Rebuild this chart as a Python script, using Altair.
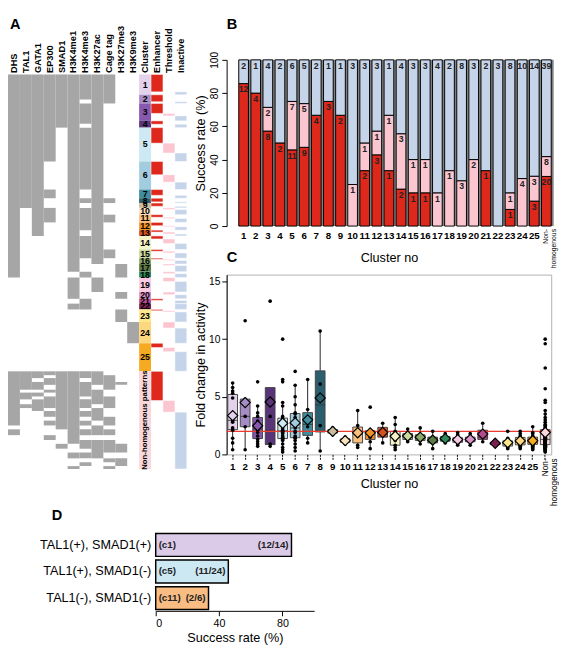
import altair as alt
import numpy as np
import pandas as pd

FONT = "Liberation Sans"

# ---------------- data ----------------
marks = ["DHS", "TAL1", "GATA1", "EP300", "SMAD1", "H3K4me1", "H3K4me3",
         "H3K27ac", "Cage tag", "H3K27me3", "H3K9me3"]
side_cols = ["Cluster", "Enhancer", "Threshold", "Inactive"]
clusters = [str(i) for i in range(1, 26)] + ["NH"]
cluster_colors = ["#e2d2ec", "#a68cc4", "#8759ae", "#5a3478", "#cde9f4", "#a2cde0",
                  "#3f8d9e", "#2b5f6e", "#cbbd9c", "#fbe2be", "#f8c07c", "#f39224",
                  "#d4521e", "#f4f3c6", "#cad99e", "#8ba86b", "#5c7b45", "#2c8a59",
                  "#f8c9e1", "#d892c8", "#b24a8b", "#7b2152", "#fde88c", "#fdd77e",
                  "#f6aa22", "#f9d8dc"]

# heatmap blocks: cluster, number of regions, presence pattern over marks
block_cluster = ["1", "2", "2", "3", "4", "4", "5", "6", "7", "8", "9", "10", "11", "12",
                 "13", "14", "15", "16", "17", "18", "19", "20", "21", "22", "23", "24", "25"] + ["NH"] * 24
block_rows = [21, 5, 4, 18, 3, 4, 35, 29, 9, 5, 5, 7, 8, 8, 6, 14, 9, 6, 8, 6, 15, 7, 5, 6, 13, 22, 29,
              4, 3, 4, 3, 5, 3, 4, 3, 5, 4, 3, 6, 4, 5, 4, 6, 5, 4, 5, 4, 6, 4, 4, 3]
block_pattern = ["11111111100", "11111111100", "11111101100", "11111111000", "11111111000",
                 "11111101000", "11110111000", "11100111000", "11110101000", "11100111100",
                 "11100101000", "10110111000", "10110111100", "10100111000", "10100101000",
                 "10000111000", "10000111100", "10000101000", "10000100010", "10000010010",
                 "00000101000", "00000100010", "00000010000", "00000110000", "00000000010",
                 "00000000001", "00000000000",
                 "11111111000", "11101111100", "11011101100", "11111111110", "11101110100",
                 "10011111000", "11101111000", "11011101100", "10111111100", "11111110100",
                 "10101101000", "10011111000", "10001101100", "10011110100", "00001101000",
                 "10000111100", "00010100000", "00000111100", "00001011110", "00000001110",
                 "00000111000", "00000000110", "00000010010", "00000100100"]

# panel B counts (Enhancer / Threshold / Inactive)
n_enhancer = [12, 4, 8, 2, 11, 9, 4, 3, 2, 0, 2, 3, 1, 2, 1, 1, 0, 0, 0, 0, 1, 0, 1, 0, 3, 20]
n_threshold = [0, 0, 2, 0, 7, 5, 0, 0, 0, 1, 1, 1, 1, 3, 1, 1, 1, 1, 3, 2, 0, 0, 1, 4, 3, 8]
n_inactive = [2, 1, 4, 2, 6, 5, 2, 1, 1, 3, 3, 3, 1, 4, 3, 3, 4, 2, 8, 3, 2, 3, 8, 10, 14, 39]
cat_names = ["Enhancer", "Threshold", "Inactive"]
cat_colors = ["#de281c", "#fcc6d1", "#c6d4ea"]

# panel C fold changes per cluster
fold_change = [
    [6.2, 5.8, 5.5, 5.3, 4.9, 3.6, 3.0, 2.9, 2.8, 2.3, 2.1, 1.4, 1.0, 0.4],
    [11.6, 4.8, 3.3, 2.4, 0.4],
    [6.3, 4.2, 3.6, 3.3, 2.9, 2.6, 2.3, 2.1, 1.9, 1.6, 1.3, 1.1, 0.9, 0.7],
    [13.3, 3.3, 0.9, 0.7],
    [10.0, 6.5, 6.3, 4.5, 4.2, 3.3, 3.1, 2.9, 2.6, 2.4, 2.2, 2.1, 2.0, 1.9, 1.8, 1.6, 1.5, 1.4,
     1.3, 1.2, 0.9, 0.6, 0.4, 0.2],
    [7.2, 6.0, 5.0, 4.3, 3.6, 3.5, 3.2, 2.8, 2.6, 2.3, 2.0, 1.9, 1.6, 1.5, 1.4, 1.2, 0.9, 0.6, 0.3],
    [6.5, 3.9, 2.8, 2.4, 1.4, 1.0],
    [10.7, 6.1, 2.5, 0.3],
    [2.3, 2.0, 1.7],
    [1.5, 1.3, 1.1, 0.9],
    [3.8, 2.5, 2.0, 1.6, 0.8, 0.6],
    [4.1, 2.1, 2.0, 1.8, 1.5, 1.1, 0.5],
    [2.7, 2.0, 1.0],
    [3.2, 2.6, 2.0, 1.9, 1.5, 1.2, 0.8, 0.6, 0.4],
    [2.2, 1.8, 1.6, 1.3, 1.1],
    [2.3, 1.7, 1.4, 1.2, 0.9],
    [2.0, 1.5, 1.2, 1.0, 0.5],
    [1.8, 1.3, 1.0],
    [1.9, 1.7, 1.5, 1.4, 1.3, 1.3, 1.2, 1.1, 1.0, 0.9, 0.8],
    [1.8, 1.5, 1.3, 1.1, 0.8],
    [2.7, 1.5, 1.1],
    [1.2, 0.9, 0.8],
    [2.0, 1.4, 1.2, 1.1, 1.0, 0.9, 0.8, 0.7, 0.6, 0.5],
    [2.0, 1.8, 1.6, 1.5, 1.4, 1.3, 1.2, 1.1, 1.0, 0.9, 0.8, 0.7, 0.6, 0.5],
    [2.4, 1.9, 1.8, 1.6, 1.5, 1.5, 1.4, 1.3, 1.2, 1.2, 1.1, 1.0, 1.0, 0.9, 0.9, 0.8, 0.7, 0.6,
     0.5, 0.4],
    [10.0, 9.6, 7.5, 5.7, 4.7, 4.5, 3.8, 3.5, 3.2, 3.0, 2.8, 2.6, 2.5, 2.4, 2.3, 2.2, 2.2, 2.1,
     2.0, 2.0, 1.9, 1.9, 1.8, 1.8, 1.7, 1.6, 1.6, 1.5, 1.5, 1.5, 1.4, 1.4, 1.4, 1.3, 1.3, 1.3,
     1.2, 1.2, 1.2, 1.1, 1.1, 1.1, 1.0, 1.0, 1.0, 1.0, 0.9, 0.9, 0.9, 0.9, 0.8, 0.8, 0.8, 0.7,
     0.7, 0.7, 0.6, 0.6, 0.6, 0.5, 0.5, 0.5, 0.4, 0.4, 0.3, 0.3, 0.2],
]
threshold_fc = [2.0]

# panel D
d_groups = ["TAL1(+), SMAD1(+)", "TAL1(+), SMAD1(-)", "TAL1(-), SMAD1(-)"]
d_tags = ["(c1)", "(c5)", "(c11)"]
d_hits = [12, 11, 2]
d_totals = [14, 24, 6]
d_colors = ["#dccbe8", "#cce9f3", "#f9bd84"]

# ---------------- tables ----------------
starts, ends = [], []
pos = 0
for n in block_rows:
    starts.append(pos)
    pos += n
    ends.append(pos)
total_rows = pos
heat = []
for j, m in enumerate(marks):
    run = None
    for s, e, p in zip(starts, ends, block_pattern):
        if p[j] == "1":
            if run is None:
                run = [s, e]
            else:
                run[1] = e
        else:
            if run is not None:
                heat.append({"col": m, "y0": run[0], "y1": run[1]})
                run = None
    if run is not None:
        heat.append({"col": m, "y0": run[0], "y1": run[1]})
heat_df = pd.DataFrame(heat)

cl_start, cl_end = {}, {}
for c, s, e in zip(block_cluster, starts, ends):
    cl_start.setdefault(c, s)
    cl_end[c] = e
cl_df = pd.DataFrame({
    "col": "Cluster",
    "cluster": clusters,
    "y0": [cl_start[c] for c in clusters],
    "y1": [cl_end[c] for c in clusters],
    "hex": cluster_colors,
})
cl_df["ymid"] = (cl_df["y0"] + cl_df["y1"]) / 2
cl_df["label"] = [c if c != "NH" else "" for c in clusters]

tested = []
for c, r, t, b in zip(clusters, n_enhancer, n_threshold, n_inactive):
    s, e = cl_start[c], cl_end[c]
    tot = r + t + b
    h = (e - s) / tot
    k = 0
    for cat, n, hx in zip(cat_names, (r, t, b), cat_colors):
        if n > 0:
            tested.append({"col": cat, "y0": s + k * h, "y1": s + (k + n) * h, "hex": hx})
        k += n
tested_df = pd.DataFrame(tested)

brows = []
for c, r, t, b in zip(clusters, n_enhancer, n_threshold, n_inactive):
    tot = r + t + b
    acc = 0
    for cat, n, hx in zip(cat_names, (r, t, b), cat_colors):
        if n > 0:
            brows.append({"cluster": c, "cat": cat, "n": n, "lo": acc / tot * 100,
                          "hi": (acc + n) / tot * 100, "hex": hx})
        acc += n
b_df = pd.DataFrame(brows)
shadow_df = pd.DataFrame({"cluster": clusters, "lo": 0, "hi": 100})

c_df = pd.DataFrame([{"cluster": c, "v": v} for c, vals in zip(clusters, fold_change) for v in vals])
stats = []
for c, vals, hx in zip(clusters, fold_change, cluster_colors):
    v = np.array(vals)
    q1, med, q3 = np.percentile(v, [25, 50, 75])
    iqr = q3 - q1
    stats.append({"cluster": c, "q1": q1, "med": med, "q3": q3, "mean": v.mean(),
                  "lo": v[v >= q1 - 1.5 * iqr].min(), "hi": v[v <= q3 + 1.5 * iqr].max(),
                  "hex": hx})
stat_df = pd.DataFrame(stats)

d_df = pd.DataFrame({"group": d_groups, "tag": d_tags,
                     "frac": [f"({h}/{t})" for h, t in zip(d_hits, d_totals)],
                     "pct": [h / t * 100 for h, t in zip(d_hits, d_totals)],
                     "hex": d_colors})

one = pd.DataFrame({"k": [0]})


def letter(t, x, y):
    return alt.Chart(one).mark_text(text=t, fontSize=15, fontWeight="bold", align="left",
                                    baseline="top", color="black").encode(
        x=alt.value(x), y=alt.value(y))


def spacer(w=1, h=1):
    return alt.Chart(one).mark_text(text="").encode(
        x=alt.value(0), y=alt.value(0)).properties(width=w, height=h)


# ---------------- panel A ----------------
A_W = 184
A_HEAT = 406          # pixel height of the heatmap rows
A_TOPGAP = 15         # heatmap starts below the top of panel B
A_H = A_HEAT + A_TOPGAP
pad_rows = A_TOPGAP * total_rows / A_HEAT
xA = alt.X("col:N", scale=alt.Scale(domain=marks + side_cols, paddingInner=0, paddingOuter=0),
           axis=alt.Axis(orient="top", title=None, labelAngle=270, labelAlign="left",
                         labelBaseline="middle", labelFontSize=9.5, labelFontWeight="bold",
                         ticks=False, tickSize=0, domain=False, labelPadding=2, labelLimit=200,
                         offset=-A_TOPGAP))
yscaleA = alt.Scale(domain=[-pad_rows, total_rows], reverse=True, nice=False, zero=False)
yA = alt.Y("y0:Q", scale=yscaleA, axis=None)
ymA = alt.Y("ymid:Q", scale=yscaleA, axis=None)

a_heat = alt.Chart(heat_df).mark_rect(color="#a6a6a6").encode(x=xA, y=yA, y2="y1:Q")
a_cl = alt.Chart(cl_df).mark_rect().encode(x=xA, y=yA, y2="y1:Q", color=alt.Color("hex:N", scale=None))
a_cltxt = alt.Chart(cl_df).mark_text(fontSize=9, fontWeight="bold", color="black").encode(
    x=xA, y=ymA, text="label:N")
a_nh = alt.Chart(cl_df[cl_df["cluster"] == "NH"]).mark_text(
    fontSize=8, fontWeight="bold", angle=270, color="black", text="Non-homogenous patterns").encode(
    x=xA, y=ymA)
a_test = alt.Chart(tested_df).mark_rect(stroke="white", strokeWidth=0.5).encode(
    x=xA, y=yA, y2="y1:Q", color=alt.Color("hex:N", scale=None))

panelA = alt.layer(a_heat, a_cl, a_test, a_cltxt, a_nh, letter("A", 2, -44)).properties(
    width=A_W, height=A_H)

# ---------------- panel B ----------------
B_W, B_H = 334, 171
xB = alt.X("cluster:N", sort=clusters,
           scale=alt.Scale(domain=clusters, paddingInner=0.2, paddingOuter=0.5, align=1),
           axis=alt.Axis(title="Cluster no", labelAngle=0, ticks=False, tickSize=0, domain=False,
                         labelExpr="datum.value == 'NH' ? '' : datum.value",
                         labelFontSize=10, labelFontWeight="bold", labelPadding=5,
                         titleFontSize=13, titleFontWeight="normal", titlePadding=12))
yB = alt.Y("hi:Q", scale=alt.Scale(domain=[0, 100], nice=False),
           axis=alt.Axis(title="Success rate (%)", values=[0, 20, 40, 60, 80, 100],
                         labelAngle=270, labelAlign="center", labelBaseline="bottom",
                         labelFontSize=10.5, titleFontSize=13, titleFontWeight="normal",
                         grid=False, tickSize=5, titlePadding=2, minExtent=18, maxExtent=18))
b_shadow = alt.Chart(shadow_df).mark_bar(color="#808080", xOffset=2.5).encode(x=xB, y=yB, y2="lo:Q")
b_bars = alt.Chart(b_df).mark_bar(stroke="black", strokeWidth=1).encode(
    x=xB, y=yB, y2="lo:Q", color=alt.Color("hex:N", scale=None))
b_txt = alt.Chart(b_df).mark_text(baseline="top", dy=2, fontSize=9, fontWeight="bold",
                                  color="#222").encode(x=xB, y=yB, text="n:Q")
b_nh = alt.Chart(pd.DataFrame({"cluster": ["NH"]})).mark_text(
    angle=270, align="right", baseline="middle", fontSize=7, lineHeight=7.5,
    text=["Non-", "homogenous"], color="black").encode(x=xB, y=alt.value(B_H + 3))
panelB = alt.layer(b_shadow, b_bars, b_txt, b_nh, letter("B", 0, -44), letter("C", 0, 196)).properties(
    width=B_W, height=B_H)

# ---------------- panel C ----------------
C_W, C_H = 334, 185
xC = alt.X("cluster:N", sort=clusters, scale=alt.Scale(domain=clusters, paddingInner=0.2, paddingOuter=0.08),
           axis=alt.Axis(title="Cluster no", labelAngle=0, domain=False, tickSize=5, tickDash=[2, 1],
                         labelExpr="datum.value == 'NH' ? '' : datum.value",
                         labelFontSize=10, labelFontWeight="bold", labelPadding=3,
                         titleFontSize=13, titleFontWeight="normal", titlePadding=6))
yscaleC = alt.Scale(domain=[0, 15.6], nice=False)
yaxisC = alt.Axis(title="Fold change in activity", values=[0, 5, 10, 15], labelFontSize=10.5,
                  titleFontSize=13, titleFontWeight="normal", grid=False, tickSize=5,
                  titlePadding=2, minExtent=18, maxExtent=18)
c_whisk = alt.Chart(stat_df).mark_rule(color="#222", strokeWidth=1).encode(
    x=xC, y=alt.Y("lo:Q", scale=yscaleC, axis=yaxisC), y2="hi:Q")
c_box = alt.Chart(stat_df).mark_bar(size=10, stroke="#444", strokeWidth=1).encode(
    x=xC, y=alt.Y("q3:Q", scale=yscaleC, axis=yaxisC), y2="q1:Q", color=alt.Color("hex:N", scale=None))
c_med = alt.Chart(stat_df).mark_tick(size=10, thickness=1.2, color="#333").encode(
    x=xC, y=alt.Y("med:Q", scale=yscaleC, axis=yaxisC))
c_line = alt.Chart(pd.DataFrame({"t": threshold_fc})).mark_rule(color="#ec3b2c", strokeWidth=1.5).encode(
    y=alt.Y("t:Q", scale=yscaleC, axis=yaxisC))
c_pts = alt.Chart(c_df).mark_circle(size=14, color="black", opacity=1).encode(
    x=xC, y=alt.Y("v:Q", scale=yscaleC, axis=yaxisC))
c_mean = alt.Chart(stat_df).mark_point(shape="diamond", size=110, filled=True, stroke="black",
                                       strokeWidth=1.2, opacity=1).encode(
    x=xC, y=alt.Y("mean:Q", scale=yscaleC, axis=yaxisC), fill=alt.Fill("hex:N", scale=None))
c_nh = alt.Chart(pd.DataFrame({"cluster": ["NH"]})).mark_text(
    angle=270, align="right", baseline="middle", fontSize=8.5, lineHeight=9,
    text=["Non-", "homogenous"], color="black").encode(x=xC, y=alt.value(C_H + 4))
panelC = alt.layer(c_whisk, c_box, c_med, c_line, c_pts, c_mean, c_nh).properties(
    width=C_W, height=C_H, view=alt.ViewBackground(stroke="#b0b0b0", strokeWidth=1))

# ---------------- panel D ----------------
D_W, D_H = 163, 81
yD = alt.Y("group:N", sort=d_groups, scale=alt.Scale(paddingInner=0.14, paddingOuter=0.05),
           axis=alt.Axis(title=None, ticks=False, tickSize=0, domain=False, labelFontSize=13,
                         labelPadding=5, labelLimit=300, minExtent=140))
xD = alt.X("pct:Q", scale=alt.Scale(domain=[0, 100], nice=False),
           axis=alt.Axis(title="Success rate (%)", values=[0, 20, 40, 60, 80, 100], labelFontSize=11,
                         titleFontSize=13, titleFontWeight="normal", grid=False, tickSize=5,
                         titlePadding=4))
d_bars = alt.Chart(d_df).mark_bar(stroke="black", strokeWidth=1.5).encode(
    x=xD, y=yD, color=alt.Color("hex:N", scale=None))
d_tag = alt.Chart(d_df).mark_text(align="left", dx=3, fontSize=10, fontWeight="bold", color="#222").encode(
    x=alt.datum(0), y=yD, text="tag:N")
d_frac = alt.Chart(d_df).mark_text(align="right", dx=-3, fontSize=10, fontWeight="bold", color="#222").encode(
    x=xD, y=yD, text="frac:N")
panelD = alt.layer(d_bars, d_tag, d_frac, letter("D", -107, -24)).properties(width=D_W, height=D_H)

# ---------------- layout ----------------
right_col = alt.vconcat(panelB, panelC, spacing=5)
top_row = alt.hconcat(panelA, right_col, spacing=6)
bottom_row = alt.hconcat(spacer(1, 1), panelD, spacing=11)

chart = alt.vconcat(top_row, bottom_row, spacing=2).properties(
    padding=0, background="white"
).configure_view(strokeWidth=0).configure_axis(
    labelFont=FONT, titleFont=FONT, labelColor="black", titleColor="black",
    domainColor="black", tickColor="black"
).configure_text(font=FONT)

chart.save("out.html", embed_options={"renderer": "svg", "actions": False})
